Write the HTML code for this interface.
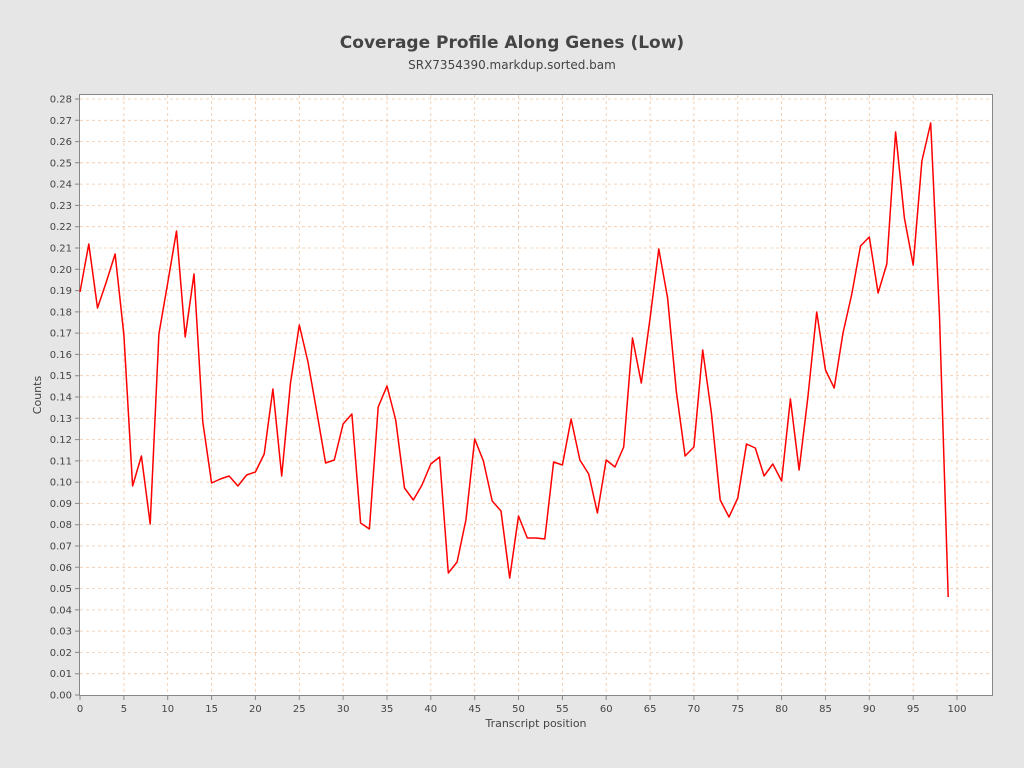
<!DOCTYPE html>
<html><head><meta charset="utf-8"><style>
html,body{margin:0;padding:0;background:#e6e6e6;}
svg{display:block;font-family:"DejaVu Sans","Liberation Sans",sans-serif;}
</style></head><body>
<svg width="1024" height="768" viewBox="0 0 1024 768" xmlns="http://www.w3.org/2000/svg">
<rect width="1024" height="768" fill="#e6e6e6"/>
<text x="512" y="48" text-anchor="middle" font-size="17" font-weight="bold" fill="#444">Coverage Profile Along Genes (Low)</text>
<text x="512" y="69" text-anchor="middle" font-size="12" fill="#444">SRX7354390.markdup.sorted.bam</text>
<rect x="79.5" y="94.5" width="913" height="601" fill="#fff" stroke="#888"/>
<g stroke="#f0c8a8" stroke-width="0.8" stroke-dasharray="3,3">
<path d="M80 673.7H992M80 652.4H992M80 631.1H992M80 609.9H992M80 588.6H992M80 567.3H992M80 546H992M80 524.7H992M80 503.4H992M80 482.1H992M80 460.9H992M80 439.6H992M80 418.3H992M80 397H992M80 375.7H992M80 354.4H992M80 333.1H992M80 311.9H992M80 290.6H992M80 269.3H992M80 248H992M80 226.7H992M80 205.4H992M80 184.1H992M80 162.8H992M80 141.6H992M80 120.3H992M80 99H992"/>
<path d="M123.9 95V695M167.7 95V695M211.6 95V695M255.4 95V695M299.3 95V695M343.1 95V695M387 95V695M430.8 95V695M474.7 95V695M518.5 95V695M562.4 95V695M606.2 95V695M650.1 95V695M693.9 95V695M737.8 95V695M781.6 95V695M825.5 95V695M869.3 95V695M913.2 95V695M957 95V695"/>
</g>
<g stroke="#888" stroke-width="1">
<path d="M75 695H79M75 673.7H79M75 652.4H79M75 631.1H79M75 609.9H79M75 588.6H79M75 567.3H79M75 546H79M75 524.7H79M75 503.4H79M75 482.1H79M75 460.9H79M75 439.6H79M75 418.3H79M75 397H79M75 375.7H79M75 354.4H79M75 333.1H79M75 311.9H79M75 290.6H79M75 269.3H79M75 248H79M75 226.7H79M75 205.4H79M75 184.1H79M75 162.8H79M75 141.6H79M75 120.3H79M75 99H79"/>
<path d="M80 696V700M123.9 696V700M167.7 696V700M211.6 696V700M255.4 696V700M299.3 696V700M343.1 696V700M387 696V700M430.8 696V700M474.7 696V700M518.5 696V700M562.4 696V700M606.2 696V700M650.1 696V700M693.9 696V700M737.8 696V700M781.6 696V700M825.5 696V700M869.3 696V700M913.2 696V700M957 696V700"/>
</g>
<g font-size="10" fill="#444" text-anchor="end">
<text x="72" y="698.5">0.00</text><text x="72" y="677.2">0.01</text><text x="72" y="655.9">0.02</text><text x="72" y="634.6">0.03</text><text x="72" y="613.4">0.04</text><text x="72" y="592.1">0.05</text><text x="72" y="570.8">0.06</text><text x="72" y="549.5">0.07</text><text x="72" y="528.2">0.08</text><text x="72" y="506.9">0.09</text><text x="72" y="485.6">0.10</text><text x="72" y="464.4">0.11</text><text x="72" y="443.1">0.12</text><text x="72" y="421.8">0.13</text><text x="72" y="400.5">0.14</text><text x="72" y="379.2">0.15</text><text x="72" y="357.9">0.16</text><text x="72" y="336.6">0.17</text><text x="72" y="315.4">0.18</text><text x="72" y="294.1">0.19</text><text x="72" y="272.8">0.20</text><text x="72" y="251.5">0.21</text><text x="72" y="230.2">0.22</text><text x="72" y="208.9">0.23</text><text x="72" y="187.6">0.24</text><text x="72" y="166.3">0.25</text><text x="72" y="145.1">0.26</text><text x="72" y="123.8">0.27</text><text x="72" y="102.5">0.28</text>
</g>
<g font-size="10" fill="#444" text-anchor="middle">
<text x="80" y="712">0</text><text x="123.9" y="712">5</text><text x="167.7" y="712">10</text><text x="211.6" y="712">15</text><text x="255.4" y="712">20</text><text x="299.3" y="712">25</text><text x="343.1" y="712">30</text><text x="387" y="712">35</text><text x="430.8" y="712">40</text><text x="474.7" y="712">45</text><text x="518.5" y="712">50</text><text x="562.4" y="712">55</text><text x="606.2" y="712">60</text><text x="650.1" y="712">65</text><text x="693.9" y="712">70</text><text x="737.8" y="712">75</text><text x="781.6" y="712">80</text><text x="825.5" y="712">85</text><text x="869.3" y="712">90</text><text x="913.2" y="712">95</text><text x="957" y="712">100</text>
</g>
<text x="536" y="727" text-anchor="middle" font-size="11" fill="#444">Transcript position</text>
<text transform="translate(41,395) rotate(-90)" text-anchor="middle" font-size="11" fill="#444">Counts</text>
<polyline fill="none" stroke="#ff0000" stroke-width="1.5" stroke-linejoin="round" points="80,292 88.8,244 97.5,308 106.3,282 115.1,254 123.9,335 132.6,486 141.4,456 150.2,524 158.9,334 167.7,283 176.5,231 185.2,337 194,274 202.8,422 211.6,483 220.3,479 229.1,476 237.9,486 246.6,475 255.4,472 264.2,454 272.9,389 281.7,476 290.5,383 299.3,325 308,362 316.8,412 325.6,463 334.3,460 343.1,424 351.9,414 360.6,523 369.4,529 378.2,407 387,386 395.7,420 404.5,488 413.3,500 422,485 430.8,464 439.6,457 448.3,573 457.1,562 465.9,520 474.7,439 483.4,461 492.2,501 501,511 509.7,578 518.5,516 527.3,538 536,538 544.8,539 553.6,462 562.4,465 571.1,419 579.9,460 588.7,474 597.4,513 606.2,460 615,467 623.7,447 632.5,338 641.3,383 650.1,318 658.8,249 667.6,298 676.4,392 685.1,456 693.9,447 702.7,350 711.4,413 720.2,500 729,517 737.8,498 746.5,444 755.3,448 764.1,476 772.8,464 781.6,481 790.4,399 799.1,470 807.9,397 816.7,312 825.5,370 834.2,388 843,333 851.8,294 860.5,246 869.3,237 878.1,293 886.8,264 895.6,132 904.4,218 913.2,265 921.9,161 930.7,123 939.5,316 948.2,597"/>
</svg>
</body></html>
